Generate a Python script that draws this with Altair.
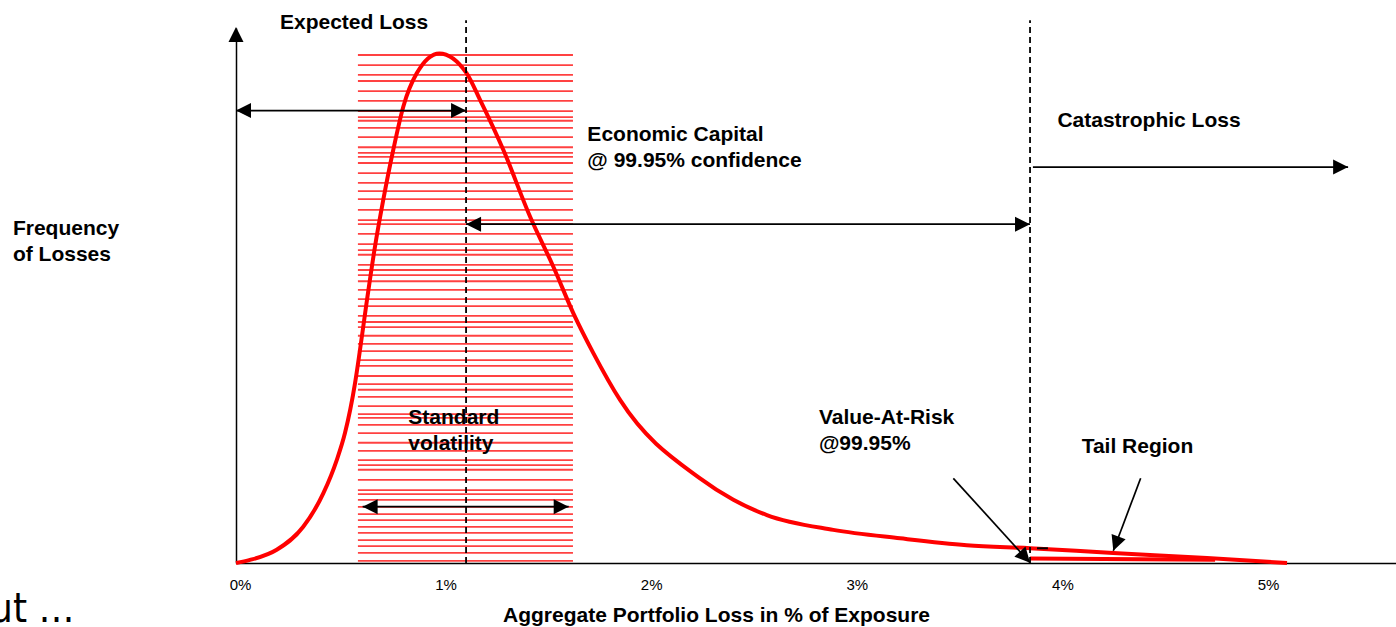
import altair as alt
import pandas as pd

# ---------------- data ----------------
# loss distribution curve (x: aggregate loss in %, y: relative frequency, peak = 100)
loss_pct = [0.0, 0.068, 0.198, 0.327, 0.425, 0.49, 0.53, 0.579, 0.603, 0.637, 0.676, 0.716,
            0.765, 0.814, 0.879, 0.989, 1.122, 1.187, 1.300, 1.430, 1.543, 1.641,
            1.738, 1.868, 2.257, 2.419, 2.582, 2.905, 3.230, 3.554, 3.862, 4.266, 4.723, 5.112]
frequency = [0.0, 0.6, 2.6, 7.1, 13.7, 20.2, 25.5, 35.3, 41.8, 51.6, 62.1, 71.2,
             81.1, 89.6, 96.1, 100.0, 96.1, 90.9, 81.1, 68.0, 58.2, 49.0,
             41.2, 32.0, 16.6, 12.4, 9.4, 6.5, 4.85, 3.5, 2.9, 1.96, 0.98, 0.0]

# thick tail band under the curve beyond VaR
tail_pct = [3.862, 4.762]
tail_freq = [0.9, 0.66]

# horizontal hatch lines of the "standard volatility" band
band_from, band_to = 0.593, 1.639
hatch_freq = [99.7, 97.7, 95.8, 94.6, 92.6, 90.7, 88.7, 87.5, 86.8, 85.4, 83.6, 81.6, 80.5,
              79.7, 78.5, 76.5, 74.6, 73.0, 71.4, 69.3, 67.3, 66.5, 64.6, 62.6, 61.4, 60.5,
              58.5, 57.5, 56.5, 55.3, 53.6, 51.8, 50.4, 48.5, 47.3, 46.3, 44.6, 43.0, 41.6,
              39.8, 38.7, 36.7, 35.1, 34.0, 32.6, 30.8, 29.2, 28.5, 27.1, 25.5, 23.6, 22.0,
              20.2, 19.2, 18.3, 16.3, 14.3, 13.5, 12.4, 11.0, 9.6, 8.4, 7.1, 5.9, 4.5, 3.3,
              2.0, 0.4]

# reference levels
expected_loss = 1.119
var_level = 3.862
dashed_top = 106.5

# arrows (shaft start / end, in data units)
arrow_x1 = [0.0, 1.119, 3.876, 0.616, 3.489, 4.400]
arrow_x2 = [1.119, 3.862, 5.409, 1.618, 3.862, 4.267]
arrow_y1 = [88.8, 66.5, 77.7, 11.05, 16.62, 16.62]
arrow_y2 = [88.8, 66.5, 77.7, 11.05, 0.06, 2.41]

# arrow heads (tip position and direction in degrees clockwise from "up")
head_x = [0.0, 0.0, 1.119, 1.119, 3.862, 5.409, 0.616, 1.618, 3.862, 4.267]
head_y = [105.2, 88.8, 88.8, 66.5, 66.5, 77.7, 11.05, 11.05, 0.06, 2.41]
head_dir = [0, 270, 90, 270, 90, 90, 270, 90, 137.7, 200.7]

# annotation texts
label_text = ["Expected Loss", "Economic Capital", "@ 99.95% confidence", "Catastrophic Loss",
              "Frequency", "of Losses", "Standard", "volatility", "Value-At-Risk", "@99.95%",
              "Tail Region"]
label_x = [0.214, 1.709, 1.709, 3.995, -1.085, -1.085, 0.838, 0.838, 2.835, 2.835, 4.113]
label_y = [104.9, 82.9, 77.8, 85.5, 64.4, 59.3, 27.3, 22.2, 27.3, 22.2, 21.5]

x_ticks = [0, 1, 2, 3, 4, 5]
x_title = "Aggregate Portfolio Loss in % of Exposure"

# ---------------- chart ----------------
SANS = "Liberation Sans, Arial, sans-serif"
CUT = "DejaVu Sans Condensed, sans-serif"

xs = alt.Scale(domain=[0, 5.642], nice=False, zero=False)
ys = alt.Scale(domain=[0, 105], nice=False, zero=False)

x_axis = alt.Axis(values=x_ticks, labelExpr="datum.value + '%'", ticks=False, tickSize=0,
                  grid=False, domainColor="black", domainWidth=1.5, labelFont=SANS,
                  labelFontSize=15, labelColor="black", labelPadding=26, labelOffset=4,
                  labelBaseline="alphabetic", labelFlush=False, title=x_title,
                  titleFont=SANS, titleFontSize=21, titleFontWeight="bold", titleColor="black",
                  titleX=480, titleY=58, titleAlign="center", titleBaseline="alphabetic",
                  titleAngle=0)
y_axis = alt.Axis(labels=False, ticks=False, grid=False, title=None, domainColor="black",
                  domainWidth=1.5)


def X(field):
    return alt.X(field, type="quantitative", scale=xs, axis=x_axis)


def Y(field):
    return alt.Y(field, type="quantitative", scale=ys, axis=y_axis)


hatch_df = pd.DataFrame({"f": hatch_freq, "x0": band_from, "x1": band_to})
curve_df = pd.DataFrame({"x": loss_pct, "f": frequency})
tail_df = pd.DataFrame({"x": tail_pct, "f": tail_freq})
dash_df = pd.DataFrame({"x": [expected_loss, var_level], "y0": 0, "y1": dashed_top})
arrow_df = pd.DataFrame({"x1": arrow_x1, "x2": arrow_x2, "y1": arrow_y1, "y2": arrow_y2})
head_df = pd.DataFrame({"x": head_x, "y": head_y, "a": head_dir})
label_df = pd.DataFrame({"x": label_x, "y": label_y, "t": label_text})
mark_df = pd.DataFrame({"x1": [3.896], "x2": [3.949], "y": [2.89]})
cut_df = pd.DataFrame({"x": [-1.196], "y": [-11.6], "t": ["ut \u2026"]})

hatch = alt.Chart(hatch_df).mark_rule(color="#ff2020", strokeWidth=1.8, opacity=0.85).encode(
    x=X("x0"), x2="x1", y=Y("f"))

curve = alt.Chart(curve_df).mark_line(color="#ff0000", strokeWidth=4,
                                      interpolate="monotone").encode(x=X("x"), y=Y("f"))

tail = alt.Chart(tail_df).mark_line(color="#ff0000", strokeWidth=4).encode(x=X("x"), y=Y("f"))

dashes = alt.Chart(dash_df).mark_rule(color="black", strokeWidth=1.8,
                                      strokeDash=[6, 4]).encode(x=X("x"), y=Y("y0"), y2="y1")

shafts = alt.Chart(arrow_df).mark_rule(color="black", strokeWidth=1.7).encode(
    x=X("x1"), x2="x2", y=Y("y1"), y2="y2")

heads = alt.Chart(head_df).mark_point(shape="M0,0L-0.5,1L0.5,1Z", filled=True, size=900,
                                      color="black", opacity=1, strokeWidth=0).encode(
    x=X("x"), y=Y("y"), angle=alt.Angle("a:Q", scale=None))

small = alt.Chart(mark_df).mark_rule(color="black", strokeWidth=2).encode(
    x=X("x1"), x2="x2", y=Y("y"))

labels = alt.Chart(label_df).mark_text(font=SANS, fontSize=21, fontWeight="bold", color="black",
                                       align="left", baseline="alphabetic").encode(
    x=X("x"), y=Y("y"), text="t:N")

cut = alt.Chart(cut_df).mark_text(font=CUT, fontSize=40, color="black", align="left",
                                  baseline="alphabetic").encode(x=X("x"), y=Y("y"), text="t:N")

chart = alt.layer(hatch, curve, tail, dashes, shafts, heads, small, labels, cut).properties(
    width=1160, height=535,
    padding={"left": 236, "top": 28, "right": 0, "bottom": 64},
    autosize=alt.AutoSizeParams(type="none"),
    background="white",
).configure_view(stroke=None)

chart.save("out.html", embed_options={"renderer": "svg", "actions": False})
